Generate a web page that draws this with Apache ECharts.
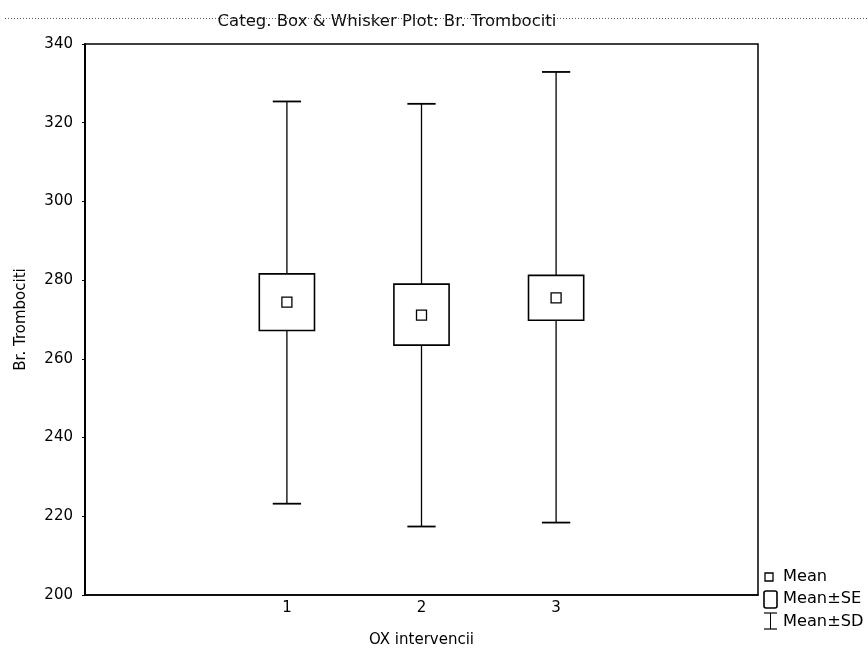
<!DOCTYPE html>
<html>
<head>
<meta charset="utf-8">
<script src="https://cdn.jsdelivr.net/npm/echarts@6/dist/echarts.min.js"></script>
<style>
html,body{margin:0;padding:0;background:#fff;}
#c{width:868px;height:653px;}
</style>
</head>
<body>
<div id="c"></div>
<script>
// Data
const categories = ['1', '2', '3'];
const means = [274.4, 271.1, 275.5];
const seLow = [267.2, 263.5, 269.8];
const seHigh = [281.6, 279.0, 281.2];
const sdLow = [223.2, 217.4, 218.4];
const sdHigh = [325.4, 324.8, 332.9];
const yTicks = [200, 220, 240, 260, 280, 300, 320, 340];

const xCats = [''].concat(categories, ['']);
const boxData = categories.map((c, i) => [c, sdLow[i], seLow[i], seHigh[i], sdHigh[i]]);
const meanData = categories.map((c, i) => [c, means[i]]);

const FONT = '"DejaVu Sans", sans-serif';
const chart = echarts.init(document.getElementById('c'));

function renderBox(params, api) {
  const x = api.value(0);
  const wl = api.coord([x, api.value(1)]);
  const bl = api.coord([x, api.value(2)]);
  const bh = api.coord([x, api.value(3)]);
  const wh = api.coord([x, api.value(4)]);
  const band = api.size([1, 0])[0];
  const bw = band * 0.41;
  const cw = band * 0.21;
  const cx = wl[0];
  return {
    type: 'group',
    children: [
      {type: 'line', shape: {x1: cx, y1: wh[1], x2: cx, y2: wl[1]}, style: {stroke: '#000', lineWidth: 1.3}},
      {type: 'line', shape: {x1: cx - cw / 2, y1: wh[1], x2: cx + cw / 2, y2: wh[1]}, style: {stroke: '#000', lineWidth: 1.8}},
      {type: 'line', shape: {x1: cx - cw / 2, y1: wl[1], x2: cx + cw / 2, y2: wl[1]}, style: {stroke: '#000', lineWidth: 1.8}},
      {type: 'rect', shape: {x: cx - bw / 2, y: bh[1], width: bw, height: bl[1] - bh[1]}, style: {fill: '#fff', stroke: '#000', lineWidth: 1.6}}
    ]
  };
}

const legendText = {fontFamily: FONT, fontSize: 15, fill: '#000', verticalAlign: 'middle'};

chart.setOption({
  animation: false,
  backgroundColor: '#fff',
  grid: {left: 85, right: 110, top: 44, bottom: 58, show: true, borderColor: '#000', borderWidth: 1.5, backgroundColor: 'transparent'},
  xAxis: {
    type: 'category',
    data: xCats,
    boundaryGap: true,
    name: 'OX intervencii',
    nameLocation: 'middle',
    nameGap: 38,
    nameTextStyle: {fontFamily: FONT, fontSize: 15, color: '#000'},
    axisLine: {lineStyle: {color: '#000', width: 1.5}},
    axisTick: {alignWithLabel: true, inside: true, length: 3, interval: (i) => i >= 1 && i <= categories.length, lineStyle: {color: '#000'}},
    axisLabel: {interval: 0, margin: 6, fontFamily: FONT, fontSize: 15, color: '#000'},
    splitLine: {show: false}
  },
  yAxis: {
    type: 'value',
    min: yTicks[0], max: yTicks[yTicks.length - 1], interval: 20,
    name: 'Br. Trombociti',
    nameLocation: 'middle',
    nameGap: 56,
    nameTextStyle: {fontFamily: FONT, fontSize: 15, color: '#000'},
    axisLine: {show: true, lineStyle: {color: '#000', width: 2}},
    axisTick: {show: true, length: 3, lineStyle: {color: '#000'}},
    axisLabel: {margin: 12, fontFamily: FONT, fontSize: 15, color: '#000'},
    splitLine: {show: false}
  },
  series: [
    {
      type: 'custom',
      renderItem: renderBox,
      data: boxData,
      encode: {x: 0, y: [1, 2, 3, 4]},
      z: 2
    },
    {
      type: 'scatter',
      data: meanData,
      symbol: 'rect',
      symbolSize: 10,
      itemStyle: {color: '#fff', borderColor: '#000', borderWidth: 1.3, opacity: 1},
      z: 5
    }
  ],
  graphic: [
    {type: 'line', z: -1, shape: {x1: 5, y1: 18.5, x2: 868, y2: 18.5}, style: {stroke: '#555', lineWidth: 1, lineDash: [1, 2]}},
    {type: 'text', x: 387, y: 22, scaleX: 1.1, style: {text: 'Categ. Box & Whisker Plot: Br. Trombociti', fontFamily: FONT, fontSize: 15, fill: '#111', align: 'center', verticalAlign: 'middle'}},
    // legend
    {type: 'rect', shape: {x: 765, y: 573, width: 8, height: 8}, style: {fill: '#fff', stroke: '#000', lineWidth: 1.3}},
    {type: 'text', x: 783, y: 577, scaleX: 1.08, style: Object.assign({text: 'Mean'}, legendText)},
    {type: 'rect', shape: {x: 764, y: 591, width: 13, height: 17, r: 2}, style: {fill: '#fff', stroke: '#000', lineWidth: 1.6}},
    {type: 'text', x: 783, y: 599, scaleX: 1.08, style: Object.assign({text: 'Mean±SE'}, legendText)},
    {type: 'line', shape: {x1: 770.5, y1: 613, x2: 770.5, y2: 629}, style: {stroke: '#000', lineWidth: 1}},
    {type: 'line', shape: {x1: 764, y1: 613, x2: 777, y2: 613}, style: {stroke: '#000', lineWidth: 1.2}},
    {type: 'line', shape: {x1: 764, y1: 629, x2: 777, y2: 629}, style: {stroke: '#000', lineWidth: 1.2}},
    {type: 'text', x: 783, y: 622, scaleX: 1.08, style: Object.assign({text: 'Mean±SD'}, legendText)}
  ]
});
</script>
</body>
</html>
